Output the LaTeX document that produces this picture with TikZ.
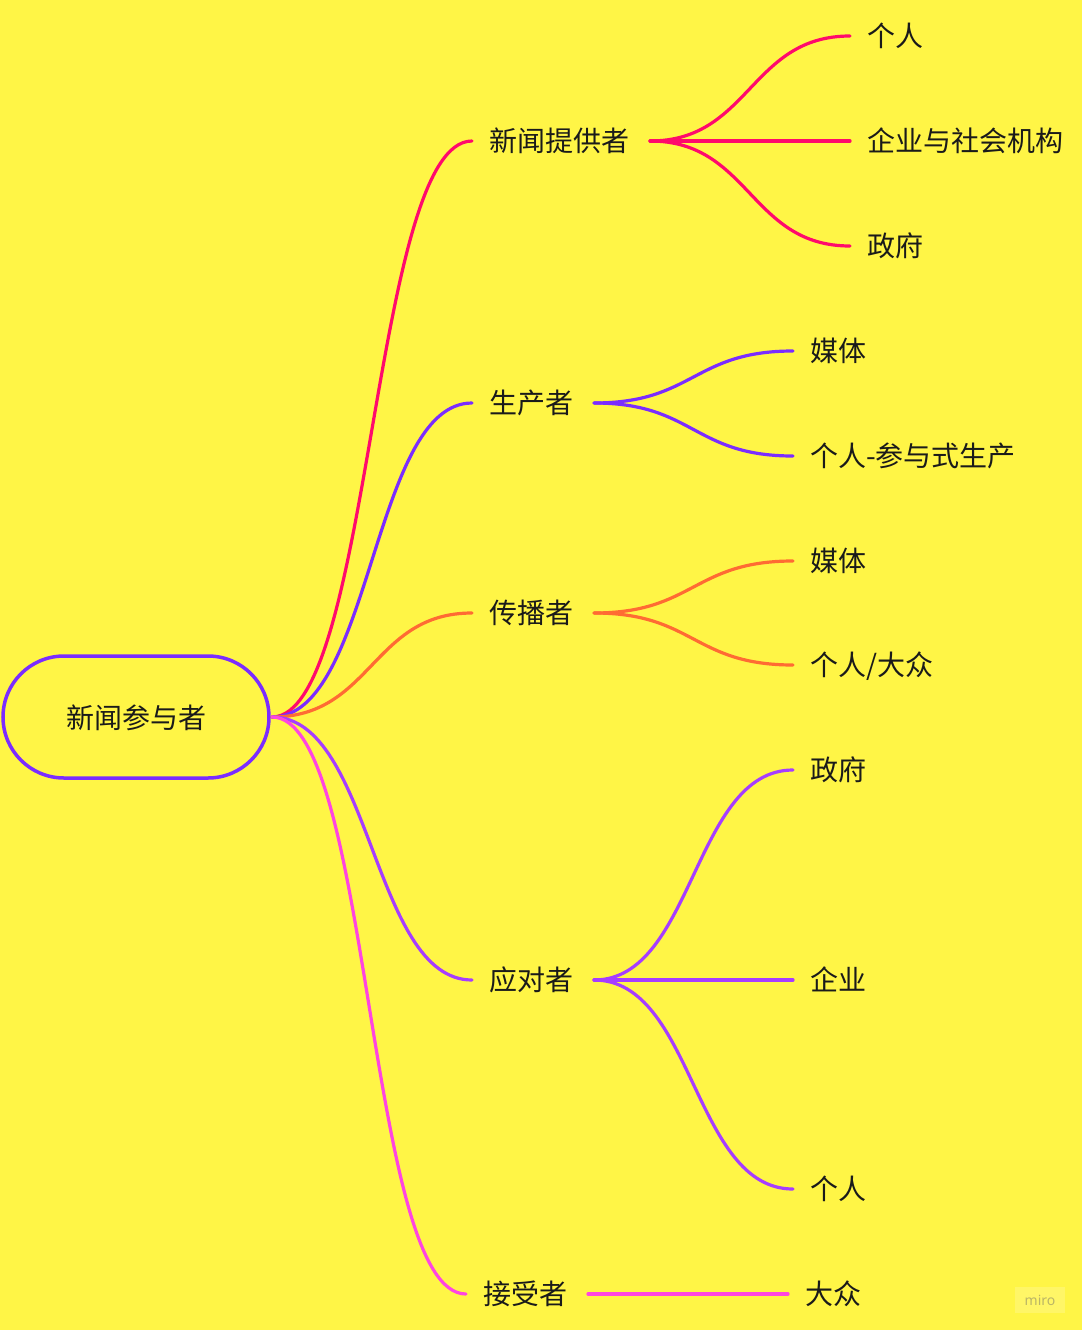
\documentclass[tikz,border=0pt]{standalone}
\usepackage{fontspec}
\setmainfont{Noto Sans CJK SC}
\newfontfamily\logofont{Noto Sans}
\definecolor{bg}{HTML}{FFF546}
\definecolor{cpink}{HTML}{FF0A6C}
\definecolor{cpurple}{HTML}{7B2CFF}
\definecolor{corange}{HTML}{FF6B33}
\definecolor{cviolet}{HTML}{A63DFF}
\definecolor{cmagenta}{HTML}{FF45E0}
\definecolor{ctext}{HTML}{1A1A1A}
\tikzset{
  lbl/.style={font=\fontsize{28}{34}\selectfont, text=ctext, inner xsep=17pt, inner ysep=0pt,
    text height=22pt, text depth=1pt},
  rootbox/.style={draw=cpurple, line width=3.5pt, rounded corners=61pt, minimum width=266pt,
    minimum height=122pt, font=\fontsize{28}{34}\selectfont, text=ctext,
    text height=24pt, text depth=1pt},
  br/.style={line width=3.2pt, line cap=round},
}
\begin{document}
\begin{tikzpicture}[x=1pt,y=-1pt]
\fill[bg] (0,0) rectangle (1082,1330);
\useasboundingbox (0,0) rectangle (1082,1330);

% root
\node[rootbox] (root) at (136,717) {新闻参与者};
\coordinate (r) at (272,717);

% level 1
\node[lbl, anchor=west] (a) at (472,141) {新闻提供者};
\node[lbl, anchor=west] (b) at (472,403) {生产者};
\node[lbl, anchor=west] (c) at (472,613) {传播者};
\node[lbl, anchor=west] (d) at (472,980) {应对者};
\node[lbl, anchor=west] (e) at (466,1294) {接受者};

% level 2
\node[lbl, anchor=west] (a1) at (850,36) {个人};
\node[lbl, anchor=west] (a2) at (850,141) {企业与社会机构};
\node[lbl, anchor=west] (a3) at (850,246) {政府};
\node[lbl, anchor=west] (b1) at (793,351) {媒体};
\node[lbl, anchor=west] (b2) at (793,456) {个人-参与式生产};
\node[lbl, anchor=west] (c1) at (793,561) {媒体};
\node[lbl, anchor=west] (c2) at (793,665) {个人/大众};
\node[lbl, anchor=west] (d1) at (793,770) {政府};
\node[lbl, anchor=west] (d2) at (793,980) {企业};
\node[lbl, anchor=west] (d3) at (793,1189) {个人};
\node[lbl, anchor=west] (e1) at (788,1294) {大众};

% start points of level-2 connectors
\coordinate (as) at (650,141);
\coordinate (bs) at (594,403);
\coordinate (cs) at (594,613);
\coordinate (ds) at (594,980);
\coordinate (es) at (588,1294);

% root connectors
\draw[br, cpink]    (r) .. controls +(100,0) and +(-100,0) .. (a.west);
\draw[br, cpurple]  (r) .. controls +(100,0) and +(-100,0) .. (b.west);
\draw[br, corange]  (r) .. controls +(100,0) and +(-100,0) .. (c.west);
\draw[br, cviolet]  (r) .. controls +(100,0) and +(-100,0) .. (d.west);
\draw[br, cmagenta] (r) .. controls +(100,0) and +(-100,0) .. (e.west);

% level-2 connectors
\draw[br, cpink] (as) .. controls +(100,0) and +(-100,0) .. (a1.west);
\draw[br, cpink] (as) -- (a2.west);
\draw[br, cpink] (as) .. controls +(100,0) and +(-100,0) .. (a3.west);
\draw[br, cpurple] (bs) .. controls +(100,0) and +(-100,0) .. (b1.west);
\draw[br, cpurple] (bs) .. controls +(100,0) and +(-100,0) .. (b2.west);
\draw[br, corange] (cs) .. controls +(100,0) and +(-100,0) .. (c1.west);
\draw[br, corange] (cs) .. controls +(100,0) and +(-100,0) .. (c2.west);
\draw[br, cviolet] (ds) .. controls +(100,0) and +(-100,0) .. (d1.west);
\draw[br, cviolet] (ds) -- (d2.west);
\draw[br, cviolet] (ds) .. controls +(100,0) and +(-100,0) .. (d3.west);
\draw[br, cmagenta] (es) -- (e1.west);

% watermark
\node[fill=white, fill opacity=0.18, text opacity=0.45, text=black!60, minimum width=50pt,
  minimum height=26pt, inner sep=0pt, font=\logofont\fontsize{14}{16}\selectfont] (logo) at (1040,1300) {miro};
\end{tikzpicture}
\end{document}
